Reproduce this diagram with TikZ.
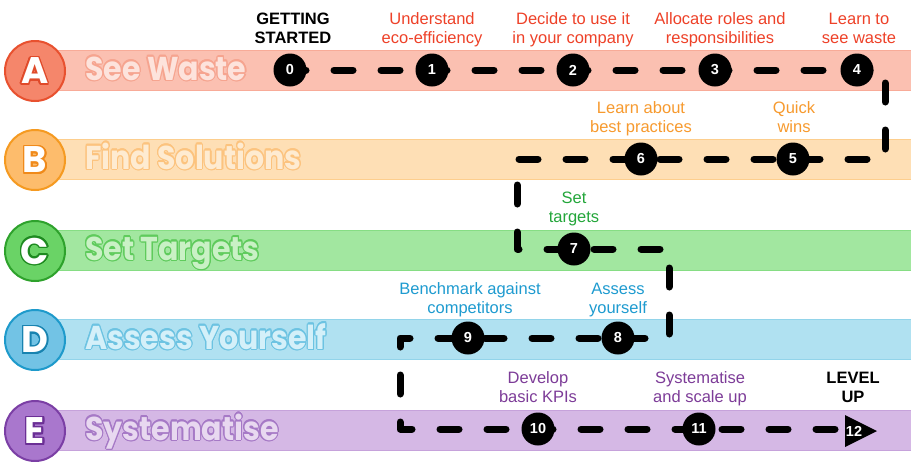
\documentclass[tikz,border=0pt]{standalone}
\usepackage{fontspec}
\setmainfont{Liberation Sans}
\newfontfamily\titlefont{Poppins}
\usetikzlibrary{calc}
\pgfdeclarelayer{bg}
\pgfdeclarelayer{mid}
\pgfsetlayers{bg,mid,main}
% band colours
\definecolor{aBand}{HTML}{FBC0B1}\definecolor{aBandB}{HTML}{F8AB98}
\definecolor{aTitF}{HTML}{FDE3DC}\definecolor{aTitO}{HTML}{F6A48F}
\definecolor{aCirc}{HTML}{F5866B}\definecolor{aCircB}{HTML}{E8512F}\definecolor{aLetO}{HTML}{E04A2A}
\definecolor{aTxt}{HTML}{EE4128}
\definecolor{bBand}{HTML}{FEDFB5}\definecolor{bBandB}{HTML}{FDCE8D}
\definecolor{bTitF}{HTML}{FEEBD1}\definecolor{bTitO}{HTML}{FCC37E}
\definecolor{bCirc}{HTML}{FDBC6C}\definecolor{bCircB}{HTML}{F59A21}\definecolor{bLetO}{HTML}{F08A1A}
\definecolor{bTxt}{HTML}{F79A2E}
\definecolor{cBand}{HTML}{A2E7A0}\definecolor{cBandB}{HTML}{86DD84}
\definecolor{cTitF}{HTML}{C9F1C5}\definecolor{cTitO}{HTML}{5FCB5C}
\definecolor{cCirc}{HTML}{6AD366}\definecolor{cCircB}{HTML}{2EA22C}\definecolor{cLetO}{HTML}{1E8A20}
\definecolor{cTxt}{HTML}{23A63A}
\definecolor{dBand}{HTML}{B0E1F1}\definecolor{dBandB}{HTML}{92D4EA}
\definecolor{dTitF}{HTML}{D4F0F9}\definecolor{dTitO}{HTML}{6CC3E2}
\definecolor{dCirc}{HTML}{72C3E5}\definecolor{dCircB}{HTML}{1E9ACB}\definecolor{dLetO}{HTML}{1883B0}
\definecolor{dTxt}{HTML}{1E9BD0}
\definecolor{eBand}{HTML}{D5B8E5}\definecolor{eBandB}{HTML}{C6A2DB}
\definecolor{eTitF}{HTML}{E8D8F0}\definecolor{eTitO}{HTML}{A679C6}
\definecolor{eCirc}{HTML}{A977CD}\definecolor{eCircB}{HTML}{7B3FA5}\definecolor{eLetO}{HTML}{6B2F95}
\definecolor{eTxt}{HTML}{7D3C98}
% outlined text: #1 name, #2 position, #3 outline colour, #4 fill colour, #5 options, #6 text, #7 radius
\newcommand\outlinetext[7]{%
  \foreach \oa in {0,22.5,...,337.5}{\node[#5,text=#3] at ($(#2)+(\oa:#7)$) {#6};}
  \node[#5,text=#4] (#1) at (#2) {#6};}
\newcommand\bandrow[4]{% #1 letter, #2 prefix, #3 centre y, #4 title
  \begin{pgfonlayer}{bg}
    \filldraw[fill=#2Band, draw=#2BandB, line width=1] (35,#3-20) rectangle (913,#3+20);
  \end{pgfonlayer}
  \node[letcirc, fill=#2Circ, draw=#2CircB] (circ#1) at (35,#3+1) {};
  \outlinetext{let#1}{35,#3+1}{#2LetO}{white}{lettxt}{#1}{1.5}
  \outlinetext{tit#1}{85,#3+10}{#2TitO}{#2TitF}{tittxt}{\scalebox{0.91}[1]{#4}}{1.1}}
\begin{document}
\begin{tikzpicture}[x=1pt,y=-1pt,
  letcirc/.style={circle, minimum size=60, inner sep=0, line width=2},
  lettxt/.style={inner sep=0, font=\titlefont\bfseries\fontsize{37}{40}\selectfont},
  tittxt/.style={inner sep=0, anchor=base west, font=\titlefont\bfseries\fontsize{33}{36}\selectfont},
  lbl/.style={font=\fontsize{16.5}{18.5}\selectfont, align=center, anchor=base, inner sep=0},
  blbl/.style={lbl, font=\bfseries\fontsize{16.5}{18.5}\selectfont, text=black},
  num/.style={circle, fill=black, minimum size=33, inner sep=0, text=white, font=\bfseries\fontsize{14.5}{16}\selectfont},
  pathline/.style={line width=7, line cap=round, line join=round, dash pattern=on 19 off 28, dash phase=3}]
\useasboundingbox (0,0) rectangle (911,461);
\begin{pgfonlayer}{bg}
\fill[white] (0,0) rectangle (911,461);
\end{pgfonlayer}
\bandrow{A}{a}{70}{See Waste}
\bandrow{B}{b}{159}{Find Solutions}
\bandrow{C}{c}{250}{Set Targets}
\bandrow{D}{d}{339}{Assess Yourself}
\bandrow{E}{e}{430}{Systematise}
% step nodes
\node[num] (n0) at (290,70) {0};
\node[num] (n1) at (432,70) {1};
\node[num] (n2) at (573,70) {2};
\node[num] (n3) at (715,70) {3};
\node[num] (n4) at (857,70) {4};
\node[num] (n5) at (793,159) {5};
\node[num] (n6) at (641,159) {6};
\node[num] (n7) at (574,249) {7};
\node[num] (n8) at (618,338) {8};
\node[num] (n9) at (468,338) {9};
\node[num] (n10) at (538,429) {10};
\node[num] (n11) at (699,429) {11};
\fill[black] (845,415) -- (877,431) -- (845,447) -- cycle;
\node[inner sep=0, text=white, font=\bfseries\fontsize{14.5}{16}\selectfont] (n12) at (854,431) {12};
% path corners
\coordinate (k1) at (885,70);
\coordinate (k2) at (885,159);
\coordinate (k3) at (517,159);
\coordinate (k4) at (517,249);
\coordinate (k5) at (669,249);
\coordinate (k6) at (669,338);
\coordinate (k7) at (400,338);
\coordinate (k8) at (400,429);
\coordinate (k9) at (845,429);
\begin{pgfonlayer}{mid}
\draw[pathline] (n0.center) -- (k1) -- (k2) -- (k3) -- (k4) -- (k5) -- (k6) -- (k7) -- (k8) -- (k9);
\end{pgfonlayer}
% labels (base = baseline of the last line)
\node[blbl] (t0) at (293,43) {GETTING\\STARTED};
\node[lbl, text=aTxt] (t1) at (432,43) {Understand\\eco-efficiency};
\node[lbl, text=aTxt] (t2) at (573,43) {Decide to use it\\in your company};
\node[lbl, text=aTxt] (t3) at (720,43) {Allocate roles and\\responsibilities};
\node[lbl, text=aTxt] (t4) at (859,43) {Learn to\\see waste};
\node[lbl, text=bTxt] (t6) at (641,132) {Learn about\\best practices};
\node[lbl, text=bTxt] (t5) at (794,132) {Quick\\wins};
\node[lbl, text=cTxt] (t7) at (574,222) {Set\\targets};
\node[lbl, text=dTxt] (t9) at (470,313) {Benchmark against\\competitors};
\node[lbl, text=dTxt] (t8) at (618,313) {Assess\\yourself};
\node[lbl, text=eTxt] (t10) at (538,402) {Develop\\basic KPIs};
\node[lbl, text=eTxt] (t11) at (700,402) {Systematise\\and scale up};
\node[blbl] (t12) at (853,402) {LEVEL\\UP};
\end{tikzpicture}
\end{document}
